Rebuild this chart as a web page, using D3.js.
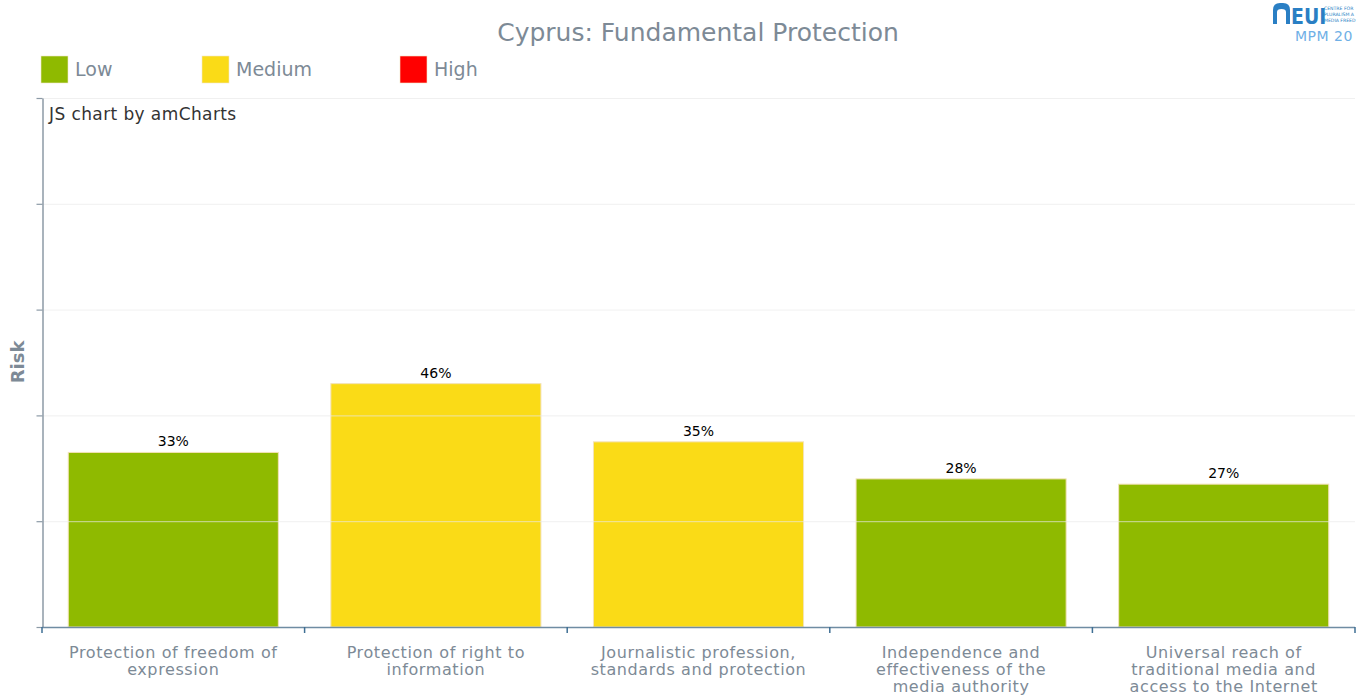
<!DOCTYPE html>
<html>
<head>
<meta charset="utf-8">
<script src="https://cdn.jsdelivr.net/npm/d3@7"></script>
<style>
  html, body { margin: 0; padding: 0; background: #fff; }
  svg { display: block; font-family: Verdana, "DejaVu Sans", sans-serif; }
</style>
</head>
<body>
<svg id="chart" width="1358" height="697"></svg>
<script>
// Indicator names (each entry is one wrapped label line list)
const categories = [
  ["Protection of freedom of", "expression"],
  ["Protection of right to", "information"],
  ["Journalistic profession,", "standards and protection"],
  ["Independence and", "effectiveness of the", "media authority"],
  ["Universal reach of", "traditional media and", "access to the Internet"]
];
const riskValues = [33, 46, 35, 28, 27];
const riskLevels = ["Low", "Medium", "Medium", "Low", "Low"];
const legendLabels = ["Low", "Medium", "High"];
const valueTicks = [0, 20, 40, 60, 80, 100];

const levelColor = { Low: "#8fba00", Medium: "#fadb17", High: "#ff0000" };

const svg = d3.select("#chart");
const margin = { left: 42, right: 3, top: 98, bottom: 70 };
const W = 1358, H = 697;
const plotW = W - margin.left - margin.right;
const plotH = H - margin.top - margin.bottom;

const x = d3.scaleBand()
  .domain(d3.range(categories.length))
  .range([margin.left, margin.left + plotW])
  .paddingInner(0.2).paddingOuter(0.1);
const xStep = plotW / categories.length;
const y = d3.scaleLinear().domain([0, 100]).range([margin.top + plotH, margin.top]);

// Title
svg.append("text")
  .attr("x", 698).attr("y", 41)
  .attr("text-anchor", "middle")
  .attr("font-size", 25)
  .attr("fill", "#7d8a96")
  .text("Cyprus: Fundamental Protection");

// Legend
const legendX = [41, 202, 400];
legendLabels.forEach((lab, i) => {
  svg.append("rect")
    .attr("x", legendX[i]).attr("y", 56)
    .attr("width", 27).attr("height", 27)
    .attr("fill", levelColor[lab])
    .attr("stroke", "#f0e6c8").attr("stroke-width", 0.6);
  svg.append("text")
    .attr("x", legendX[i] + 34).attr("y", 76)
    .attr("font-size", 19)
    .attr("fill", "#7d8a96")
    .text(lab);
});

// Logo (top-right corner)
const logo = svg.append("g");
logo.append("path")
  .attr("d", "M1273,24 L1273,10 Q1273,3 1280,3 L1283,3 Q1290,3 1290,10 L1290,24 L1286,24 L1286,12 Q1286,9 1281.5,9 Q1277,9 1277,12 L1277,24 Z")
  .attr("fill", "#2a7fc4");
logo.append("text")
  .attr("x", 1291).attr("y", 24)
  .attr("font-size", 21).attr("font-weight", "bold")
  .attr("fill", "#2a7fc4")
  .attr("font-family", "'Liberation Sans Narrow', 'DejaVu Sans Condensed', sans-serif")
  .text("EUI");
["CENTRE FOR", "PLURALISM A", "MEDIA FREED"].forEach((t, i) => {
  logo.append("text")
    .attr("x", 1324).attr("y", 10 + i * 6)
    .attr("font-size", 4.6).attr("fill", "#2a7fc4")
    .text(t);
});
logo.append("text")
  .attr("x", 1295).attr("y", 41)
  .attr("font-size", 14)
  .attr("fill", "#6fb0e6")
  .attr("letter-spacing", 0.5)
  .text("MPM 20");

// Bars
svg.append("g").selectAll("rect")
  .data(riskValues)
  .join("rect")
  .attr("x", (d, i) => x(i))
  .attr("y", d => y(d))
  .attr("width", x.bandwidth())
  .attr("height", d => y(0) - y(d))
  .attr("fill", (d, i) => levelColor[riskLevels[i]])
  .attr("stroke", "#f3e2b8").attr("stroke-width", 1);

// Grid lines, drawn over bars
svg.append("g").selectAll("line")
  .data(valueTicks.slice(1))
  .join("line")
  .attr("x1", margin.left).attr("x2", W - margin.right)
  .attr("y1", d => y(d) + 0.5).attr("y2", d => y(d) + 0.5)
  .attr("stroke", "#e9e9e9").attr("stroke-opacity", 0.7).attr("stroke-width", 1);

// Value axis (no labels)
const yAxis = svg.append("g")
  .attr("transform", `translate(${margin.left + 0.5},0)`)
  .call(d3.axisLeft(y).tickValues(valueTicks).tickFormat("").tickSize(6).tickSizeOuter(0));
yAxis.select(".domain").attr("stroke", "#8c9aa6").attr("stroke-width", 1.5);
yAxis.selectAll(".tick line").attr("stroke", "#8c9aa6").attr("stroke-width", 1.2);

// Category axis with boundary ticks
const boundaries = d3.range(categories.length + 1).map(i => margin.left + i * xStep);
const xAxisG = svg.append("g");
xAxisG.append("line")
  .attr("x1", margin.left).attr("x2", W - margin.right)
  .attr("y1", y(0) + 0.5).attr("y2", y(0) + 0.5)
  .attr("stroke", "#6f8ca3").attr("stroke-width", 1.5);
xAxisG.selectAll("line.b")
  .data(boundaries)
  .join("line").attr("class", "b")
  .attr("x1", d => Math.min(d, W - 2)).attr("x2", d => Math.min(d, W - 2))
  .attr("y1", y(0)).attr("y2", y(0) + 6)
  .attr("stroke", "#3f6f94").attr("stroke-width", 1.5);

// Category labels
const labelG = svg.append("g");
categories.forEach((lines, i) => {
  const t = labelG.append("text")
    .attr("x", x(i) + x.bandwidth() / 2)
    .attr("y", 658)
    .attr("text-anchor", "middle")
    .attr("font-size", 16)
    .attr("letter-spacing", 0.6)
    .attr("fill", "#7d8a96");
  lines.forEach((ln, j) => {
    t.append("tspan")
      .attr("x", x(i) + x.bandwidth() / 2)
      .attr("dy", j === 0 ? 0 : 17)
      .text(ln);
  });
});

// Value labels
svg.append("g").selectAll("text")
  .data(riskValues)
  .join("text")
  .attr("x", (d, i) => x(i) + x.bandwidth() / 2)
  .attr("y", d => y(d) - 6)
  .attr("text-anchor", "middle")
  .attr("font-size", 14)
  .attr("fill", "#000")
  .text(d => d + "%");

// Axis title
svg.append("text")
  .attr("transform", "translate(24,362) rotate(-90)")
  .attr("text-anchor", "middle")
  .attr("font-size", 18).attr("font-weight", "bold")
  .attr("fill", "#7d8a96")
  .text("Risk");

// Credit
svg.append("text")
  .attr("x", 49).attr("y", 120)
  .attr("font-size", 17)
  .attr("letter-spacing", 0.4)
  .attr("fill", "#333")
  .text("JS chart by amCharts");
</script>
</body>
</html>
